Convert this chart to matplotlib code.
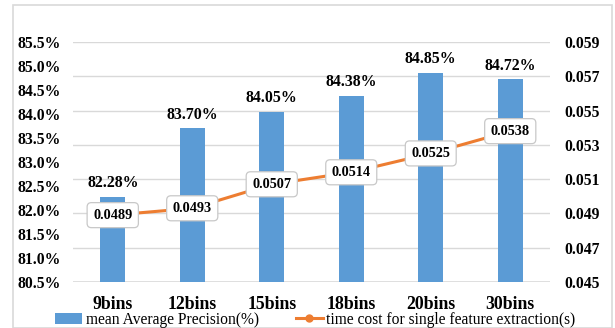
import numpy as np
import matplotlib.pyplot as plt
from matplotlib.patches import Rectangle

categories = ["9bins", "12bins", "15bins", "18bins", "20bins", "30bins"]
map_values = [82.28, 83.70, 84.05, 84.38, 84.85, 84.72]
time_cost = [0.0489, 0.0493, 0.0507, 0.0514, 0.0525, 0.0538]
left_ticks = [80.5, 81.0, 81.5, 82.0, 82.5, 83.0, 83.5, 84.0, 84.5, 85.0, 85.5]
right_ticks = [0.045, 0.047, 0.049, 0.051, 0.053, 0.055, 0.057, 0.059]

bar_color = "#5B9BD5"
line_color = "#ED7D31"
serif = "Liberation Serif"

fig = plt.figure(figsize=(6.15, 3.28), dpi=100)
fig.patches.append(Rectangle((13 / 615, 0.0), 599 / 615, 1 - 5 / 328,
                             transform=fig.transFigure, fill=False,
                             edgecolor="#d9d9d9", linewidth=1.2))

ax = fig.add_axes([73 / 615, 1 - 282 / 328, 477 / 615, 240 / 328])
ax2 = ax.twinx()
ax.set_zorder(1)
ax2.set_zorder(2)
ax2.patch.set_visible(False)
ax.patch.set_visible(False)

x = np.arange(len(categories))
bars = ax.bar(x, map_values, width=0.31, color=bar_color, bottom=0,
              label="mean Average Precision(%)", zorder=2)
ax.set_ylim(80.5, 85.5)
ax.set_xlim(-0.5, len(categories) - 0.5)
ax.set_yticks(left_ticks)
ax.set_yticklabels([f"{v:.1f}%" for v in left_ticks])
for xi, v in zip(x, map_values):
    ax.text(xi, v + 0.12, f"{v:.2f}%", ha="center", va="bottom",
            fontsize=11.4, fontweight="bold", family=serif)

ax2.set_ylim(0.045, 0.059)
ax2.set_yticks(right_ticks)
ax2.set_yticklabels([f"{v:.3f}" for v in right_ticks])
for yv in right_ticks[1:]:
    ax.axhline(80.5 + (yv - 0.045) / 0.014 * 5, color="#d9d9d9",
               linewidth=1, zorder=0)
ax.axhline(80.5, color="#d9d9d9", linewidth=1.2, zorder=0)

line, = ax2.plot(x, time_cost, color=line_color, linewidth=2.2, marker="o",
                 markersize=5, label="time cost for single feature extraction(s)")
for xi, v in zip(x, time_cost):
    ax2.text(xi, v, f"{v:.4f}", ha="center", va="center", fontsize=10.3,
             fontweight="bold", family=serif,
             bbox=dict(boxstyle="round,pad=0.42,rounding_size=0.3",
                       facecolor="white", edgecolor="#c8c8c8", linewidth=0.9))

for a in (ax, ax2):
    for s in a.spines.values():
        s.set_visible(False)
    a.tick_params(length=0)

ax.set_xticks(x)
ax.set_xticklabels(categories)
ax.tick_params(axis="x", pad=10)
ax.tick_params(axis="y", pad=9)
ax2.tick_params(axis="y", pad=10.5)
for lab in ax.get_xticklabels():
    lab.set_fontsize(12.8)
    lab.set_fontweight("bold")
    lab.set_family(serif)
for lab in ax.get_yticklabels() + ax2.get_yticklabels():
    lab.set_fontsize(11.3)
    lab.set_fontweight("bold")
    lab.set_family(serif)

fig.legend([bars, line], [bars.get_label(), line.get_label()],
           loc="center", bbox_to_anchor=(0.513, 1 - 320 / 328), ncol=2,
           frameon=False, prop={"family": serif, "size": 11.2},
           handlelength=1.7, handleheight=0.75, columnspacing=2.4,
           handletextpad=0.25, borderaxespad=0, borderpad=0.1)

fig.savefig("out.png", dpi=100)
